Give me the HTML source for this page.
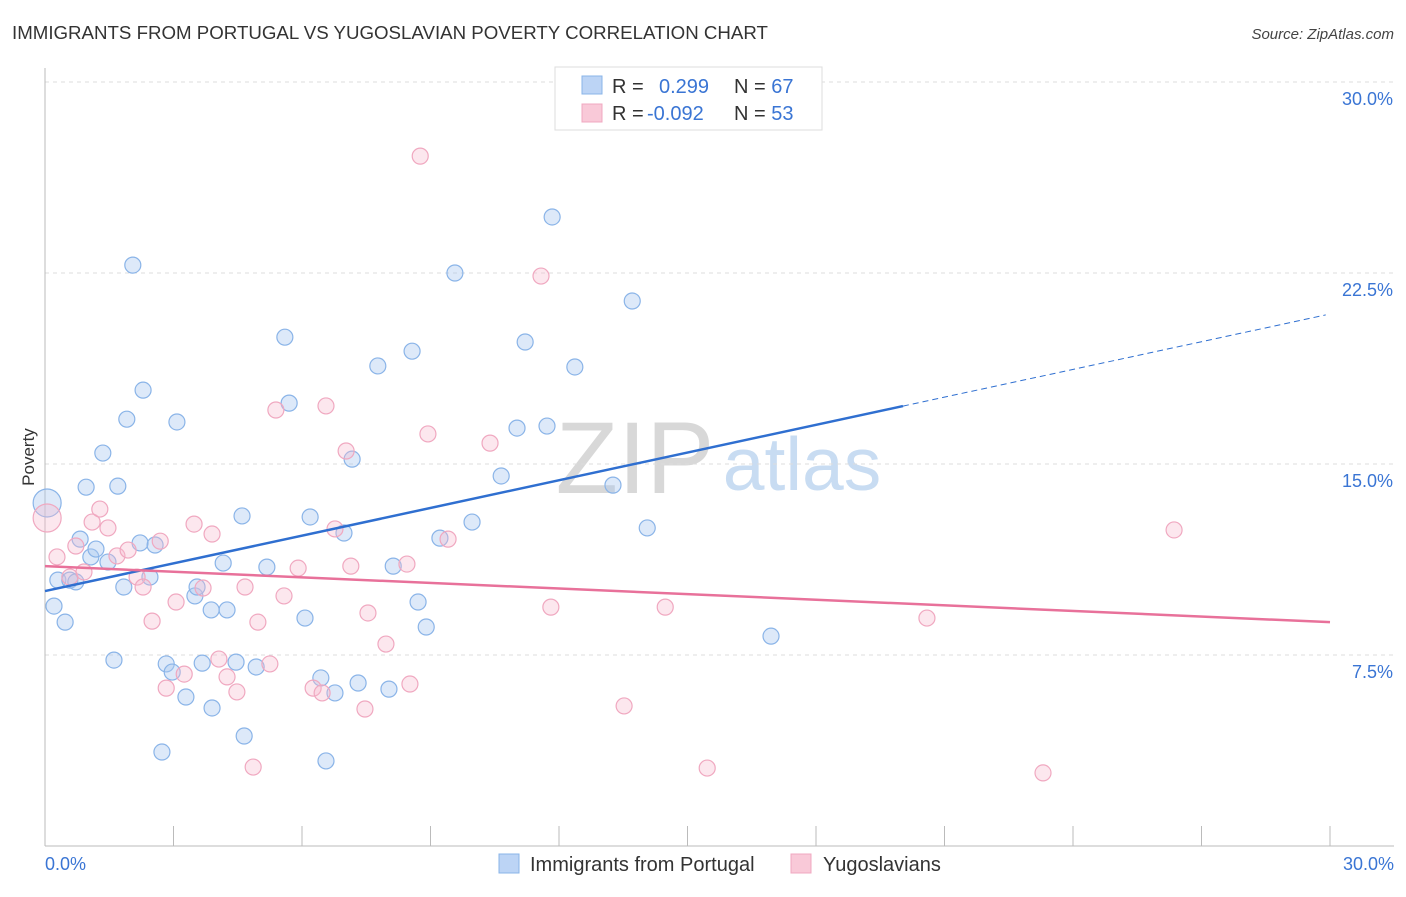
<!DOCTYPE html>
<html><head><meta charset="utf-8"><style>
body{margin:0;background:#fff;font-family:"Liberation Sans",sans-serif;}
svg text{font-family:"Liberation Sans",sans-serif;}
</style></head><body>
<svg id="c" width="1406" height="892" viewBox="0 0 1406 892">
<text x="12" y="39" font-size="18.7" fill="#333">IMMIGRANTS FROM PORTUGAL VS YUGOSLAVIAN POVERTY CORRELATION CHART</text>
<text x="1394" y="39" font-size="15" fill="#444" font-style="italic" text-anchor="end">Source: ZipAtlas.com</text>
<text x="635" y="493" font-size="102" fill="#d8d8d8" font-family="Liberation Serif" text-anchor="middle">ZIP</text>
<text x="802" y="490" font-size="75" fill="#c8dcf2" text-anchor="middle">atlas</text>
<g id="grid"></g><g id="axes"></g><g id="pts"></g><g id="trend"></g>
<text x="34" y="457" font-size="17" fill="#333" text-anchor="middle" transform="rotate(-90 34 457)">Poverty</text>
<text x="45" y="870" font-size="18" fill="#3a75d4">0.0%</text>
<text x="1394" y="870" font-size="18" fill="#3a75d4" text-anchor="end">30.0%</text>
<g>
<rect x="555" y="67" width="267" height="63" fill="#fff" stroke="#ddd"/>
<rect x="582" y="76" width="20" height="18" fill="#bcd4f5" stroke="#8ab4e8"/>
<rect x="582" y="104" width="20" height="18" fill="#f9c9d8" stroke="#f0a8c0"/>
<text x="612" y="93" font-size="20" fill="#333">R = <tspan fill="#3a75d4" x="659">0.299</tspan><tspan x="734" fill="#333">N = </tspan><tspan fill="#3a75d4">67</tspan></text>
<text x="612" y="120" font-size="20" fill="#333">R = <tspan fill="#3a75d4" x="647">-0.092</tspan><tspan x="734" fill="#333">N = </tspan><tspan fill="#3a75d4">53</tspan></text>
</g>
<g>
<rect x="499" y="854" width="20" height="19" fill="#bcd4f5" stroke="#8ab4e8"/>
<text x="530" y="871" font-size="20" fill="#333">Immigrants from Portugal</text>
<rect x="791" y="854" width="20" height="19" fill="#f9c9d8" stroke="#f0a8c0"/>
<text x="823" y="871" font-size="20" fill="#333">Yugoslavians</text>
</g>
</svg>
<script>
const yTicks=[7.5,15,22.5,30];
const xTickVals=[0,3,6,9,12,15,18,21,24,27,30];
const blueX=[0.05,0.21,0.30,0.47,0.58,0.72,0.82,0.96,1.07,1.19,1.35,1.47,1.61,1.70,1.84,1.91,2.05,2.22,2.29,2.45,2.57,2.73,2.83,2.97,3.08,3.29,3.50,3.55,3.67,3.88,3.90,4.16,4.25,4.46,4.60,4.65,4.93,5.18,5.60,5.70,6.07,6.19,6.44,6.56,6.77,6.98,7.17,7.31,7.77,8.03,8.13,8.57,8.71,8.90,9.22,9.57,9.97,10.65,11.02,11.21,11.72,11.84,12.37,13.26,13.71,14.06,16.95];
const blueY=[13.47,9.42,10.44,8.79,10.44,10.37,12.05,14.09,11.35,11.66,15.43,11.15,7.30,14.13,10.17,16.76,22.81,11.90,17.90,10.56,11.82,3.69,7.15,6.83,16.65,5.85,9.82,10.17,7.18,9.27,5.42,11.11,9.27,7.22,12.96,4.32,7.03,10.95,19.98,17.39,8.95,12.92,6.60,3.34,6.01,12.29,15.19,6.40,18.85,6.16,10.99,19.43,9.58,8.60,12.09,22.50,12.72,14.53,16.41,19.79,16.49,24.70,18.81,14.17,21.40,12.49,8.24];
const pinkX=[0.05,0.28,0.58,0.72,0.91,1.10,1.28,1.47,1.68,1.94,2.15,2.29,2.50,2.69,2.83,3.06,3.25,3.48,3.69,3.90,4.06,4.25,4.48,4.67,4.86,4.97,5.25,5.39,5.58,5.91,6.26,6.47,6.56,6.77,7.03,7.14,7.47,7.54,7.96,8.45,8.52,8.76,8.94,9.41,10.39,11.58,11.81,13.52,14.48,15.46,20.59,23.30,26.36];
const pinkY=[12.88,11.35,10.56,11.78,10.76,12.72,13.23,12.49,11.39,11.62,10.56,10.17,8.83,11.97,6.20,9.58,6.75,12.64,10.13,12.25,7.34,6.64,6.05,10.17,3.10,8.79,7.15,17.12,9.82,10.91,6.20,6.01,17.28,12.45,15.51,10.99,5.38,9.15,7.93,11.07,6.36,27.09,16.18,12.05,15.82,22.38,9.38,5.50,9.38,3.06,8.95,2.87,12.41];
const blueTrend=[10.01,20.89]; const blueSolidEnd=20.03;
const pinkTrend=[10.99,8.79];
const NS='http://www.w3.org/2000/svg';
const X=v=>45+v*(1285/30), Y=v=>846-v*(191/7.5);
function mk(tag,attrs,parent){const e=document.createElementNS(NS,tag);for(const k in attrs)e.setAttribute(k,attrs[k]);document.getElementById(parent).appendChild(e);return e;}
yTicks.forEach(t=>{
 const l=mk('line',{x1:45,x2:1394,y1:Y(t),y2:Y(t),stroke:'#ddd','stroke-dasharray':'4,4'},'grid');
 
 
 const tx=mk('text',{x:1393,y:Y(t)+23,'font-size':18,fill:'#3a75d4','text-anchor':'end'},'grid');
 tx.textContent=t.toFixed(1)+'%';
 
 
});
const ax=mk('line',{x1:45,x2:45,y1:68,y2:846,stroke:'#bbb'},'axes');


const bx=mk('line',{x1:45,x2:1394,y1:846,y2:846,stroke:'#bbb'},'axes');


xTickVals.forEach(t=>{
 const l=mk('line',{x1:X(t),x2:X(t),y1:826,y2:846,stroke:'#bbb'},'axes');
 
 
});
function dots(xs,ys,fill,stroke,name){
 xs.forEach((x,i)=>{
  const c=mk('circle',{cx:X(x),cy:Y(ys[i]),r:i===0?14:8,fill:fill,stroke:stroke,'stroke-width':1.2},'pts');
  
  
 });
}
dots(blueX,blueY,'rgba(170,200,240,0.4)','#8ab4e8','portugal-point');
dots(pinkX,pinkY,'rgba(245,185,205,0.35)','#f0a8c0','yugoslavian-point');
const bf=v=>blueTrend[0]+(blueTrend[1]-blueTrend[0])*v/30;
const t1=mk('line',{x1:X(0),y1:Y(bf(0)),x2:X(blueSolidEnd),y2:Y(bf(blueSolidEnd)),stroke:'#2f6fd0','stroke-width':2.5},'trend');


const t2=mk('line',{x1:X(blueSolidEnd),y1:Y(bf(blueSolidEnd)),x2:X(29.9),y2:Y(bf(29.9)),stroke:'#2f6fd0','stroke-width':1,'stroke-dasharray':'6,4'},'trend');


const t3=mk('line',{x1:X(0),y1:Y(pinkTrend[0]),x2:X(30),y2:Y(pinkTrend[1]),stroke:'#e8719a','stroke-width':2.5},'trend');


</script>
</body></html>
